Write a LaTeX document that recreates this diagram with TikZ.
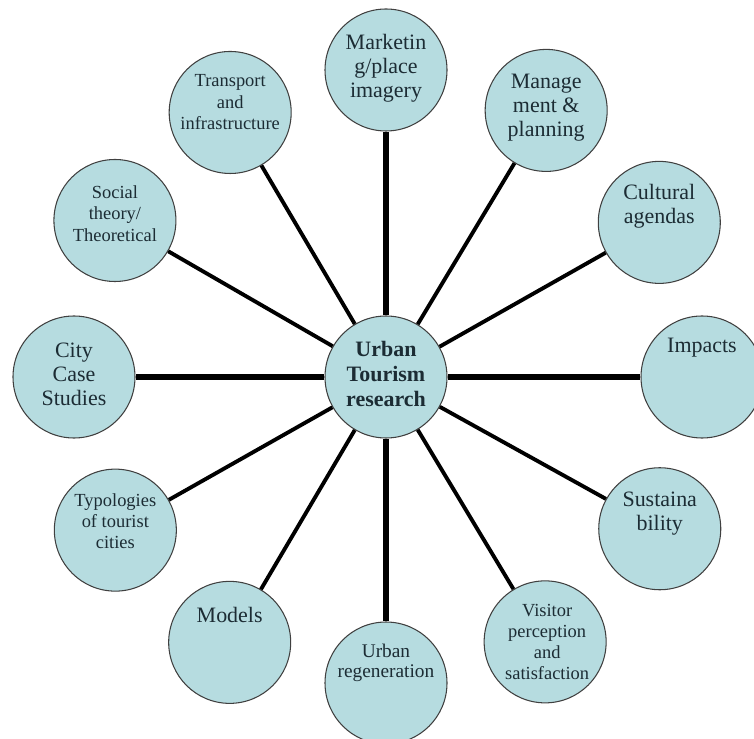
\documentclass[tikz,border=0pt]{standalone}
\usepackage{fontspec}
\setmainfont{Liberation Serif}
\usepackage{xcolor}
\definecolor{topicblue}{RGB}{182,220,224}
\definecolor{inkdark}{RGB}{28,44,52}
\usetikzlibrary{positioning}

\begin{document}
\begin{tikzpicture}
\useasboundingbox (-7.72,-7.22) rectangle (7.36,7.54);
\tikzset{topic/.style={circle, draw=black!75, line width=0.6pt, fill=topicblue, minimum size=2.44cm, inner sep=0pt}}
\tikzset{bigtxt/.style={font=\fontsize{12.5}{13.7}\selectfont, align=center, text=inkdark, inner sep=0pt}}
\tikzset{smalltxt/.style={font=\fontsize{10.5}{12.2}\selectfont, align=center, text=inkdark, inner sep=0pt}}
\tikzset{spoke/.style={line width=2.2pt}, mainspoke/.style={line width=3.4pt}}
\node[topic, label={[name=c-t, bigtxt, font=\fontsize{12.5}{14.2}\selectfont\bfseries, yshift=0.06cm]center:{Urban\\Tourism\\research}}] (c) at (0,0) {};
\node[topic, label={[name=mkt-t, bigtxt, yshift=0.04cm]center:{Marketin\\g/place\\imagery}}] (mkt) at (90:6.14) {};
\node[topic, label={[name=mgt-t, bigtxt, yshift=0.06cm]center:{Manage\\ment \&\\planning}}] (mgt) at (59:6.22) {};
\node[topic, label={[name=cul-t, bigtxt, yshift=0.32cm]center:{Cultural\\agendas}}] (cul) at (29.5:6.28) {};
\node[topic, label={[name=imp-t, bigtxt, yshift=0.58cm]center:{Impacts}}] (imp) at (0:6.32) {};
\node[topic, label={[name=sus-t, bigtxt, yshift=0.3cm]center:{Sustaina\\bility}}] (sus) at (-29:6.26) {};
\node[topic, label={[name=vis-t, smalltxt, font=\fontsize{10.5}{12}\selectfont, xshift=0.04cm]center:{Visitor\\perception\\and\\satisfaction}}] (vis) at (-59:6.18) {};
\node[topic, label={[name=reg-t, smalltxt, font=\fontsize{11}{11.5}\selectfont, yshift=0.4cm]center:{Urban\\regeneration}}] (reg) at (-90:6.12) {};
\node[topic, label={[name=mod-t, bigtxt, yshift=0.54cm]center:{Models}}] (mod) at (-120.5:6.16) {};
\node[topic, label={[name=typ-t, smalltxt, yshift=0.18cm]center:{Typologies\\of tourist\\cities}}] (typ) at (-150.5:6.22) {};
\node[topic, label={[name=city-t, bigtxt, yshift=0.06cm]center:{City\\Case\\Studies}}] (city) at (180:6.24) {};
\node[topic, label={[name=soc-t, smalltxt, yshift=0.14cm]center:{Social\\theory/\\Theoretical}}] (soc) at (150:6.26) {};
\node[topic, label={[name=tra-t, smalltxt, yshift=0.2cm]center:{Transport\\and\\infrastructure}}] (tra) at (120.5:6.14) {};
\draw[mainspoke] (c) -- (mkt);
\draw[spoke] (c) -- (mgt);
\draw[spoke] (c) -- (cul);
\draw[mainspoke] (c) -- (imp);
\draw[spoke] (c) -- (sus);
\draw[spoke] (c) -- (vis);
\draw[mainspoke] (c) -- (reg);
\draw[spoke] (c) -- (mod);
\draw[spoke] (c) -- (typ);
\draw[mainspoke] (c) -- (city);
\draw[spoke] (c) -- (soc);
\draw[spoke] (c) -- (tra);
\end{tikzpicture}
\end{document}
